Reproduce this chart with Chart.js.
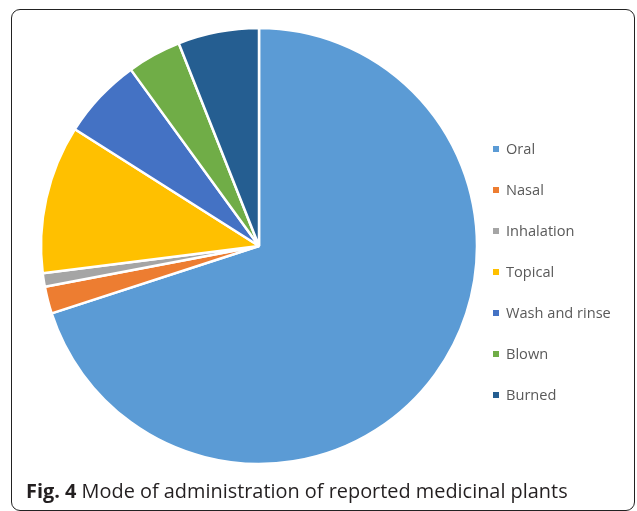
<!DOCTYPE html>
<html>
<head>
<meta charset="utf-8">
<script src="https://cdn.jsdelivr.net/npm/chart.js@4"></script>
<style>
  html, body { margin: 0; padding: 0; background: #fff; width: 637px; height: 511px; overflow: hidden; }
  #frame { position: absolute; left: 11px; top: 9px; width: 622px; height: 500px; border: 1.5px solid #222; border-radius: 9px; }
  #wrap { position: absolute; left: 0; top: 0; width: 637px; height: 480px; }
  #legend { position: absolute; left: 0; top: 0; width: 637px; height: 480px; font-family: "Open Sans", sans-serif; font-size: 14.6px; color: #595959; }
  .sw { position: absolute; width: 6px; height: 6px; }
  .tx { position: absolute; line-height: 20px; white-space: nowrap; }
  #caption { position: absolute; left: 26px; top: 477px; font-family: "Open Sans", sans-serif; font-size: 19.9px; color: #231f20; white-space: nowrap; }
  #caption b { font-weight: 700; }
</style>
</head>
<body>
<div id="frame"></div>
<div id="wrap"><canvas id="c" width="637" height="480"></canvas></div>
<div id="legend"></div>
<div id="caption"><b>Fig. 4</b> Mode of administration of reported medicinal plants</div>
<script>
const categories = ["Oral", "Nasal", "Inhalation", "Topical", "Wash and rinse", "Blown", "Burned"];
const values = [70, 2, 1, 11, 6, 4, 6];
const colors = ["#5B9BD5", "#ED7D31", "#A5A5A5", "#FFC000", "#4472C4", "#70AD47", "#255E91"];

const chart = new Chart(document.getElementById('c'), {
  type: 'pie',
  data: {
    labels: categories,
    datasets: [{
      data: values,
      backgroundColor: colors,
      borderColor: '#ffffff',
      borderWidth: 2.5,
      radius: 218
    }]
  },
  options: {
    responsive: false,
    animation: false,
    layout: { padding: { left: 41, right: 160, top: 28, bottom: 16 } },
    plugins: {
      legend: { display: false },
      tooltip: { enabled: false }
    }
  }
});

// HTML legend built from the chart's own legend items
const legendEl = document.getElementById('legend');
const items = chart.options.plugins.legend.labels.generateLabels(chart);
items.forEach((it, i) => {
  const cy = 149 + 41 * i;
  const sw = document.createElement('div');
  sw.className = 'sw';
  sw.style.left = '493px';
  sw.style.top = (cy - 3) + 'px';
  sw.style.background = it.fillStyle;
  legendEl.appendChild(sw);
  const tx = document.createElement('div');
  tx.className = 'tx';
  tx.style.left = '506px';
  tx.style.top = (cy - 11) + 'px';
  tx.textContent = it.text;
  legendEl.appendChild(tx);
});
</script>
</body>
</html>
